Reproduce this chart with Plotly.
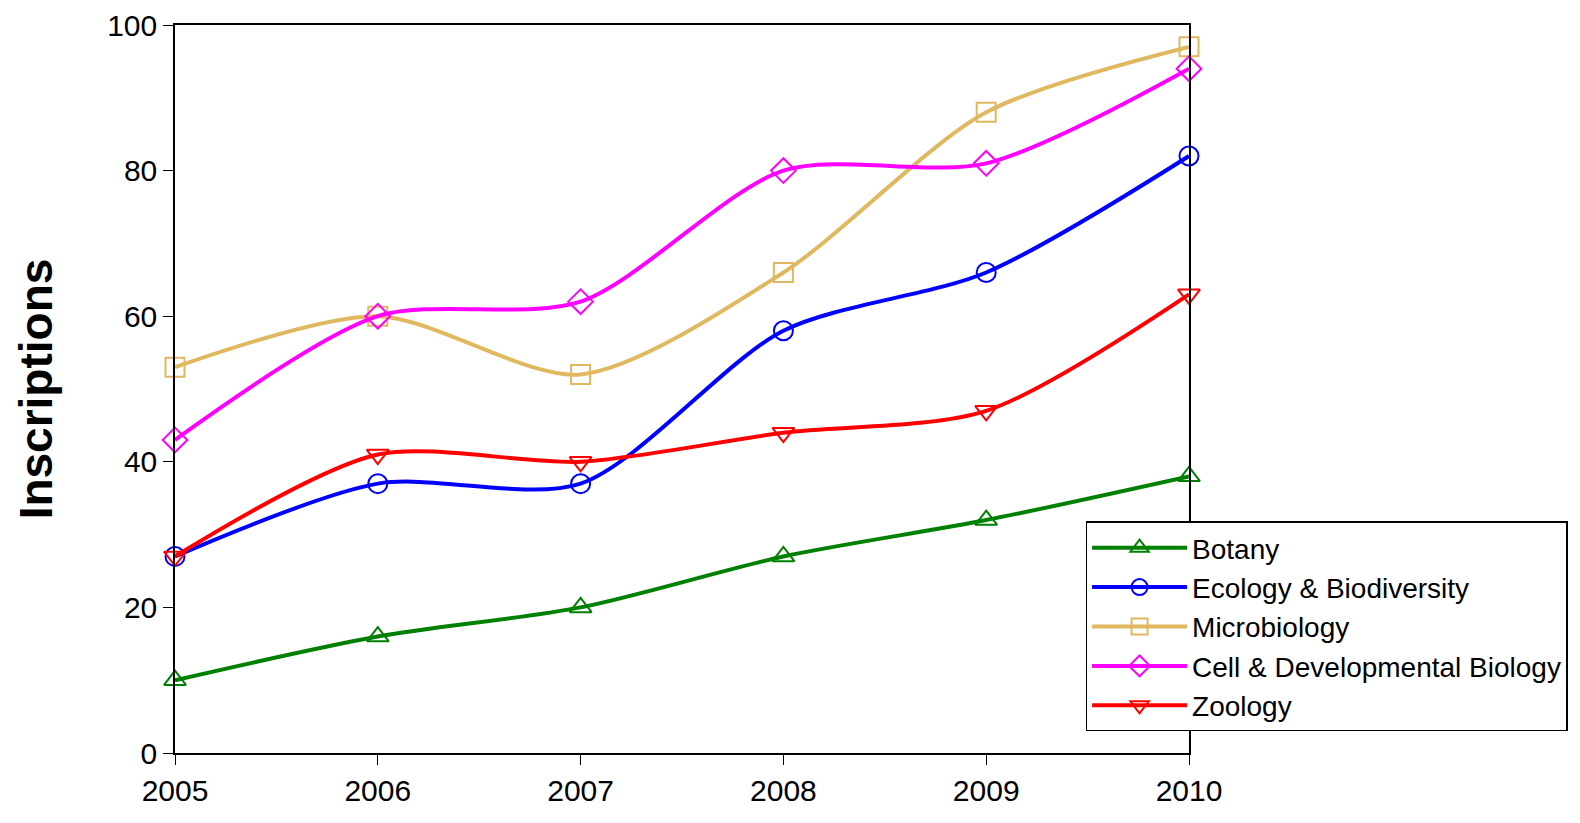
import plotly.graph_objects as go

years = [2005, 2006, 2007, 2008, 2009, 2010]
botany = [10, 16, 20, 27, 32, 38]
ecology = [27, 37, 37, 58, 66, 82]
micro = [53, 60, 52, 66, 88, 97]
cell = [43, 60, 62, 80, 81, 94]
zoology = [27, 41, 40, 44, 47, 63]

series = [
    ("Botany", botany, "#008000", "triangle-up-open"),
    ("Ecology & Biodiversity", ecology, "#0000FF", "circle-open"),
    ("Microbiology", micro, "#E0B860", "square-open"),
    ("Cell & Developmental Biology", cell, "#FF00FF", "diamond-open"),
    ("Zoology", zoology, "#FF0000", "triangle-down-open"),
]

fig = go.Figure()
for name, vals, col, sym in series:
    fig.add_trace(go.Scatter(
        x=years, y=vals, name=name, mode="lines+markers", cliponaxis=False,
        line=dict(color=col, width=4, shape="spline", smoothing=0.8),
        marker=dict(symbol=sym, size=19, color=col, line=dict(width=2, color=col)),
    ))

fig.update_layout(
    width=1580, height=823, plot_bgcolor="white", paper_bgcolor="white",
    margin=dict(l=175, r=391, t=25, b=70, autoexpand=False),
    font=dict(family="Liberation Sans, Arial", size=30, color="black"),
    legend=dict(x=0.898, y=0.318, xanchor="left", yanchor="top",
                bordercolor="black", borderwidth=1.5, bgcolor="white",
                font=dict(size=28), itemwidth=95, tracegroupgap=0),
)
fig.update_xaxes(range=[2005, 2010], tickvals=years, showline=True, linecolor="black",
                 linewidth=1.5, mirror=True, ticks="outside", ticklen=10, automargin=False,
                 tickcolor="black", showgrid=False, zeroline=False)
fig.update_yaxes(range=[0, 100], dtick=20, showline=True, linecolor="black",
                 linewidth=1.5, mirror=True, ticks="outside", ticklen=10, automargin=False,
                 tickcolor="black", showgrid=False, zeroline=False,
                 title=dict(text="<b>Inscriptions</b>", font=dict(size=46), standoff=40))
fig.write_html("out.html", config={"displayModeBar": False})

with open("out.html", encoding="utf-8") as f:
    html = f.read()
html = html.replace("<body>", '<body style="margin:0">', 1)
with open("out.html", "w", encoding="utf-8") as f:
    f.write(html)
